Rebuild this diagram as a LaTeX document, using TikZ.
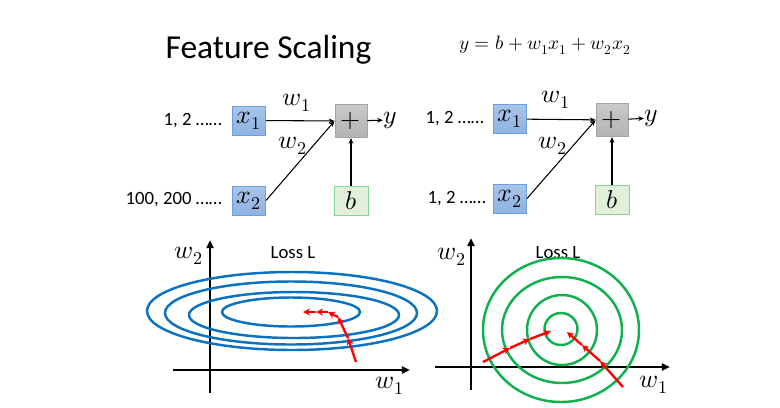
\documentclass[tikz,border=0pt]{standalone}
\usepackage{fontspec}
\usepackage{unicode-math}
\setmainfont{Carlito}
\setmathfont{Latin Modern Math}
\usepackage{tikz}
\usetikzlibrary{positioning, arrows.meta}
\definecolor{boxblue}{HTML}{A9C5EB}
\definecolor{boxblueb}{HTML}{8DB2E2}
\definecolor{lineblue}{HTML}{6F9FD8}
\definecolor{sumgray}{HTML}{C9C9C9}
\definecolor{sumgrayb}{HTML}{B3B3B3}
\definecolor{linegray}{HTML}{A5A5A5}
\definecolor{biasgreen}{HTML}{E2F0D9}
\definecolor{linegreen}{HTML}{86D396}
\definecolor{lossblue}{HTML}{0B72C2}
\definecolor{lossgreen}{HTML}{0FB04E}
\definecolor{steprd}{HTML}{FF0000}

\begin{document}
\begin{tikzpicture}[x=0.03cm, y=-0.03cm,
  mathlbl/.style={inner sep=0pt, font=\fontsize{22}{24}\selectfont},
  txtlbl/.style={inner sep=0pt, font=\fontsize{16}{18}\selectfont},
  inbox/.style={top color=boxblue, bottom color=boxblueb, draw=lineblue, line width=0.8pt,
                minimum width=0.99cm, minimum height=0.87cm, inner sep=0pt, mathlbl},
  sumbox/.style={top color=sumgray, bottom color=sumgrayb, draw=linegray, line width=0.8pt,
                 minimum width=0.96cm, minimum height=0.99cm, inner sep=0pt, mathlbl},
  biasbox/.style={fill=biasgreen, draw=linegreen, line width=0.8pt,
                  minimum width=1.02cm, minimum height=0.87cm, inner sep=0pt, mathlbl},
  wire/.style={-{Stealth[length=5pt, width=4pt]}, line width=0.9pt},
  axis/.style={-{Triangle[length=7pt, width=6pt]}, line width=1.8pt},
  stepline/.style={-{Stealth[length=6pt, width=6pt]}, steprd, line width=2pt},
  lossring/.style={line width=2.1pt}]
  \useasboundingbox (0,0) rectangle (780,407);

  % title and model
  \node[anchor=base, inner sep=0pt, font=\fontsize{28.6}{30}\selectfont] (title) at (268.5,58) {Feature Scaling};
  \node[inner sep=0pt, font=\fontsize{16.5}{18}\selectfont] (model) at (545,45) {$y=b+w_1x_1+w_2x_2$};

  % left network
  \node[inbox] (xa) at (249,120.5) {$x_1$};
  \node[inbox] (xb) at (249,200.5) {$x_2$};
  \node[sumbox] (sum) at (351,121) {$+$};
  \node[biasbox] (bias) at (351,200.5) {$b$};
  \node[mathlbl, anchor=west] (out) at (383,120) {$y$};
  \node[txtlbl, anchor=east] (ina) at (222,121) {1, 2 ……};
  \node[txtlbl, anchor=east] (inb) at (222,200) {100, 200 ……};
  \node[mathlbl] (wa) at (297,103) {$w_1$};
  \node[mathlbl] (wb) at (293,146) {$w_2$};
  \draw[wire] (xa) -- (sum);
  \draw[wire] (xb.east) -- (sum.west);
  \draw[wire] (bias) -- (sum);
  \draw[wire] (sum) -- (out);

  % right network
  \node[inbox] (xc) at (510,119) {$x_1$};
  \node[inbox] (xd) at (510,198.5) {$x_2$};
  \node[sumbox] (sumr) at (612,120) {$+$};
  \node[biasbox] (biasr) at (612,200) {$b$};
  \node[mathlbl, anchor=west] (outr) at (644,118) {$y$};
  \node[txtlbl, anchor=east] (inc) at (484,119) {1, 2 ……};
  \node[txtlbl, anchor=east] (ind) at (486,199) {1, 2 ……};
  \node[mathlbl] (wc) at (556,100) {$w_1$};
  \node[mathlbl] (wd) at (553,146) {$w_2$};
  \draw[wire] (xc) -- (sumr);
  \draw[wire] (xd.east) -- (sumr.west);
  \draw[wire] (biasr) -- (sumr);
  \draw[wire] (sumr) -- (outr);

  % left loss surface
  \draw[axis] (173,370) -- (410,370);
  \draw[axis] (210,393) -- (210,240);
  \node[mathlbl] (wla) at (390,386) {$w_1$};
  \node[mathlbl] (wlb) at (189,256) {$w_2$};
  \node[txtlbl] (lossl) at (293,253) {Loss L};
  \draw[lossring, lossblue] (292,311) ellipse [x radius=145, y radius=39];
  \draw[lossring, lossblue] (291,313) ellipse [x radius=126, y radius=31.5];
  \draw[lossring, lossblue] (294,315) ellipse [x radius=105, y radius=23];
  \draw[lossring, lossblue] (291,312) ellipse [x radius=69, y radius=14.5];
  \draw[stepline] (356,362) -- (348,338);
  \draw[stepline] (348,338) -- (338,317);
  \draw[stepline] (338,317) -- (328,312);
  \draw[stepline] (328,312) -- (316,312);
  \draw[stepline] (316,312) -- (303,312);

  % right loss surface
  \draw[axis] (435,367) -- (670,367);
  \draw[axis] (471,390) -- (471,238);
  \node[mathlbl] (wra) at (654,385) {$w_1$};
  \node[mathlbl] (wrb) at (452,257) {$w_2$};
  \node[txtlbl] (lossr) at (558,253) {Loss L};
  \draw[lossring, lossgreen] (561,330) ellipse [x radius=78, y radius=72];
  \draw[lossring, lossgreen] (562,330) ellipse [x radius=60, y radius=53];
  \draw[lossring, lossgreen] (562,330) ellipse [x radius=35, y radius=35];
  \draw[lossring, lossgreen] (561,329) ellipse [x radius=16.5, y radius=16];
  \draw[stepline] (483,362) -- (510,348);
  \draw[stepline] (510,348) -- (530,339);
  \draw[stepline] (530,339) -- (551,331);
  \draw[stepline] (623,387) -- (600,361);
  \draw[stepline] (600,361) -- (582,345);
  \draw[stepline] (582,345) -- (567,332);
\end{tikzpicture}
\end{document}
